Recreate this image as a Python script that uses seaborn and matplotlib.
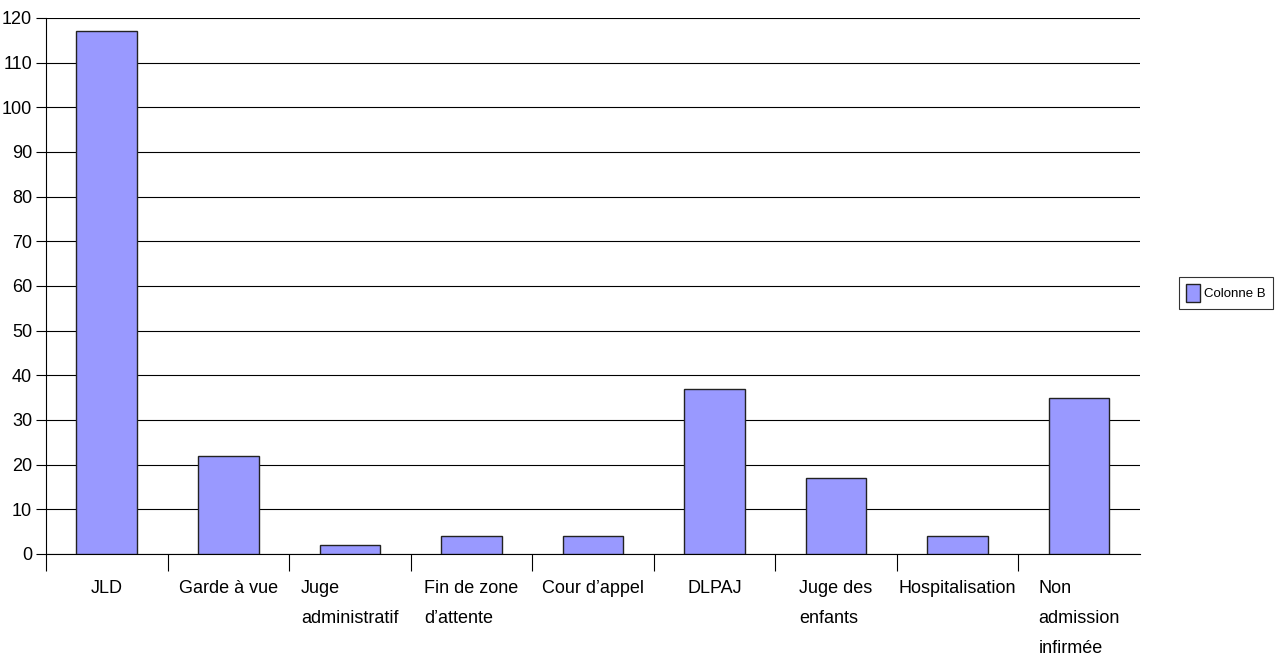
import numpy as np
import pandas as pd
import seaborn as sns
import matplotlib.pyplot as plt

categories = ["JLD", "Garde à vue", "Juge\nadministratif", "Fin de zone\nd’attente",
              "Cour d’appel", "DLPAJ", "Juge des\nenfants", "Hospitalisation",
              "Non\nadmission\ninfirmée"]
values = [117, 22, 2, 4, 4, 37, 17, 4, 35]
series_name = "Colonne B"
y_ticks = list(range(0, 121, 10))

df = pd.DataFrame({"cat": categories, "val": values, "serie": series_name})

sns.set_style("white")
plt.rcParams['font.family'] = ['Liberation Sans Narrow', 'Liberation Sans', 'DejaVu Sans']
plt.rcParams['text.color'] = 'black'
plt.rcParams['xtick.color'] = 'black'
plt.rcParams['ytick.color'] = 'black'
plt.rcParams['xtick.bottom'] = True
plt.rcParams['ytick.left'] = True

fig = plt.figure(figsize=(12.8, 6.56), dpi=100)
ax = fig.add_axes([0.036, 0.1555, 0.8545, 0.8171])

sns.barplot(data=df, x="cat", y="val", hue="serie", palette=["#9999ff"], saturation=1,
            width=0.5, edgecolor="#222222", linewidth=1, ax=ax, zorder=3)

ax.set_xlim(-0.5, len(categories) - 0.5)
ax.set_ylim(0, 120)
ax.set_yticks(y_ticks)
ax.set_yticklabels([str(t) for t in y_ticks], fontsize=13)
ax.yaxis.grid(True, color="black", linewidth=0.8, zorder=0)
ax.set_axisbelow(True)

# category labels without ticks, separators as ticks (none at the right end)
ax.set_xticks(np.arange(len(categories)))
ax.set_xticklabels(categories, fontsize=13, ha="center", multialignment="left",
                   va="top", linespacing=2.0)
ax.tick_params(axis="x", which="major", bottom=True, length=0, pad=19)
ax.set_xticks(np.arange(len(categories)) - 0.5, minor=True)
ax.tick_params(axis="x", which="minor", bottom=True, length=12, width=0.8,
               color="black", direction="out")
ax.tick_params(axis="y", left=True, length=7, width=0.8, color="black",
               direction="out", pad=3)

for s in ["top", "right"]:
    ax.spines[s].set_visible(False)
ax.spines["left"].set_color("black")
ax.spines["bottom"].set_color("black")
ax.spines["left"].set_linewidth(0.8)
ax.spines["bottom"].set_linewidth(0.8)

ax.set_xlabel("")
ax.set_ylabel("")

leg = ax.legend(loc="center left", bbox_to_anchor=(1.036, 0.487), frameon=True,
                fancybox=False, edgecolor="black", fontsize=9.5,
                handlelength=1.0, handleheight=1.65, handletextpad=0.3,
                borderpad=0.55, borderaxespad=0)
leg.get_frame().set_linewidth(0.8)

fig.savefig("out.png", dpi=100)
